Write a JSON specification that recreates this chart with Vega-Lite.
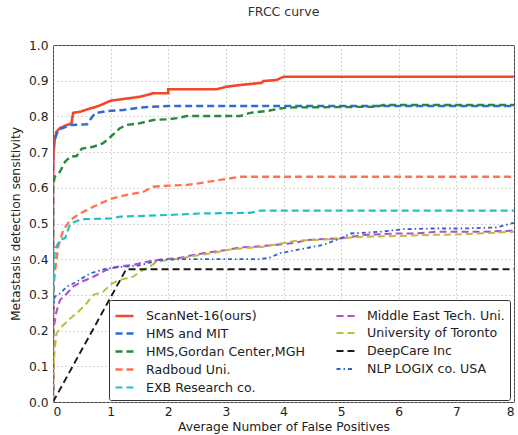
{
  "$schema": "https://vega.github.io/schema/vega-lite/v6.json",
  "width": 461,
  "height": 357,
  "autosize": {"type": "none"},
  "padding": {"left": 53, "top": 45, "right": 4, "bottom": 33},
  "background": "white",
  "title": {"text": "FRCC curve", "fontSize": 12.5, "font": "DejaVu Sans", "fontWeight": "normal", "color": "#333", "anchor": "middle", "baseline": "bottom", "offset": 8},
  "config": {
    "font": "DejaVu Sans",
    "view": {"stroke": "#444", "strokeWidth": 1},
    "axis": {"grid": true, "gridColor": "#aaa", "gridDash": [1, 3], "gridWidth": 1, "domain": false, "ticks": false, "labelFont": "DejaVu Sans", "labelFontSize": 12.3, "labelColor": "#222", "titleFont": "DejaVu Sans", "titleFontSize": 12.3, "titleFontWeight": "normal", "titleColor": "#222"}
  },
  "data": {"values": [
    {"s":"ScanNet-16(ours)","x":0,"y":0},{"s":"ScanNet-16(ours)","x":0,"y":0.62},{"s":"ScanNet-16(ours)","x":0.01,"y":0.7},{"s":"ScanNet-16(ours)","x":0.03,"y":0.734},{"s":"ScanNet-16(ours)","x":0.06,"y":0.757},{"s":"ScanNet-16(ours)","x":0.12,"y":0.767},{"s":"ScanNet-16(ours)","x":0.24,"y":0.776},{"s":"ScanNet-16(ours)","x":0.32,"y":0.78},{"s":"ScanNet-16(ours)","x":0.35,"y":0.81},{"s":"ScanNet-16(ours)","x":0.47,"y":0.813},{"s":"ScanNet-16(ours)","x":0.64,"y":0.822},{"s":"ScanNet-16(ours)","x":0.79,"y":0.829},{"s":"ScanNet-16(ours)","x":1.0,"y":0.844},{"s":"ScanNet-16(ours)","x":1.28,"y":0.85},{"s":"ScanNet-16(ours)","x":1.51,"y":0.855},{"s":"ScanNet-16(ours)","x":1.74,"y":0.865},{"s":"ScanNet-16(ours)","x":2.0,"y":0.865},{"s":"ScanNet-16(ours)","x":2.0,"y":0.876},{"s":"ScanNet-16(ours)","x":2.84,"y":0.876},{"s":"ScanNet-16(ours)","x":3.0,"y":0.883},{"s":"ScanNet-16(ours)","x":3.25,"y":0.888},{"s":"ScanNet-16(ours)","x":3.62,"y":0.894},{"s":"ScanNet-16(ours)","x":3.65,"y":0.899},{"s":"ScanNet-16(ours)","x":3.88,"y":0.902},{"s":"ScanNet-16(ours)","x":4.0,"y":0.911},{"s":"ScanNet-16(ours)","x":8,"y":0.911},

    {"s":"HMS and MIT","x":0,"y":0},{"s":"HMS and MIT","x":0,"y":0.7},{"s":"HMS and MIT","x":0.005,"y":0.725},{"s":"HMS and MIT","x":0.09,"y":0.762},{"s":"HMS and MIT","x":0.3,"y":0.776},{"s":"HMS and MIT","x":0.59,"y":0.778},{"s":"HMS and MIT","x":0.64,"y":0.79},{"s":"HMS and MIT","x":0.73,"y":0.809},{"s":"HMS and MIT","x":0.93,"y":0.815},{"s":"HMS and MIT","x":1.22,"y":0.818},{"s":"HMS and MIT","x":1.51,"y":0.825},{"s":"HMS and MIT","x":2.0,"y":0.829},{"s":"HMS and MIT","x":8,"y":0.829},

    {"s":"HMS,Gordan Center,MGH","x":0,"y":0},{"s":"HMS,Gordan Center,MGH","x":0,"y":0.6},{"s":"HMS,Gordan Center,MGH","x":0.03,"y":0.631},{"s":"HMS,Gordan Center,MGH","x":0.12,"y":0.645},{"s":"HMS,Gordan Center,MGH","x":0.21,"y":0.673},{"s":"HMS,Gordan Center,MGH","x":0.3,"y":0.687},{"s":"HMS,Gordan Center,MGH","x":0.41,"y":0.689},{"s":"HMS,Gordan Center,MGH","x":0.5,"y":0.71},{"s":"HMS,Gordan Center,MGH","x":0.7,"y":0.715},{"s":"HMS,Gordan Center,MGH","x":0.87,"y":0.725},{"s":"HMS,Gordan Center,MGH","x":1.0,"y":0.743},{"s":"HMS,Gordan Center,MGH","x":1.16,"y":0.767},{"s":"HMS,Gordan Center,MGH","x":1.28,"y":0.776},{"s":"HMS,Gordan Center,MGH","x":1.51,"y":0.781},{"s":"HMS,Gordan Center,MGH","x":1.74,"y":0.79},{"s":"HMS,Gordan Center,MGH","x":2.0,"y":0.792},{"s":"HMS,Gordan Center,MGH","x":2.15,"y":0.795},{"s":"HMS,Gordan Center,MGH","x":2.32,"y":0.801},{"s":"HMS,Gordan Center,MGH","x":3.25,"y":0.801},{"s":"HMS,Gordan Center,MGH","x":3.42,"y":0.81},{"s":"HMS,Gordan Center,MGH","x":3.71,"y":0.815},{"s":"HMS,Gordan Center,MGH","x":3.94,"y":0.822},{"s":"HMS,Gordan Center,MGH","x":4.06,"y":0.825},{"s":"HMS,Gordan Center,MGH","x":5.62,"y":0.827},{"s":"HMS,Gordan Center,MGH","x":5.73,"y":0.832},{"s":"HMS,Gordan Center,MGH","x":8,"y":0.832},

    {"s":"Radboud Uni.","x":0,"y":0},{"s":"Radboud Uni.","x":0,"y":0.3},{"s":"Radboud Uni.","x":0.03,"y":0.36},{"s":"Radboud Uni.","x":0.09,"y":0.435},{"s":"Radboud Uni.","x":0.18,"y":0.482},{"s":"Radboud Uni.","x":0.3,"y":0.51},{"s":"Radboud Uni.","x":0.47,"y":0.528},{"s":"Radboud Uni.","x":0.64,"y":0.542},{"s":"Radboud Uni.","x":0.82,"y":0.556},{"s":"Radboud Uni.","x":1.02,"y":0.57},{"s":"Radboud Uni.","x":1.28,"y":0.58},{"s":"Radboud Uni.","x":1.57,"y":0.589},{"s":"Radboud Uni.","x":1.74,"y":0.603},{"s":"Radboud Uni.","x":2.0,"y":0.606},{"s":"Radboud Uni.","x":2.32,"y":0.608},{"s":"Radboud Uni.","x":2.55,"y":0.613},{"s":"Radboud Uni.","x":2.9,"y":0.622},{"s":"Radboud Uni.","x":3.25,"y":0.631},{"s":"Radboud Uni.","x":8,"y":0.631},

    {"s":"EXB Research co.","x":0,"y":0},{"s":"EXB Research co.","x":0,"y":0.25},{"s":"EXB Research co.","x":0.03,"y":0.426},{"s":"EXB Research co.","x":0.12,"y":0.454},{"s":"EXB Research co.","x":0.21,"y":0.459},{"s":"EXB Research co.","x":0.3,"y":0.5},{"s":"EXB Research co.","x":0.38,"y":0.505},{"s":"EXB Research co.","x":0.5,"y":0.512},{"s":"EXB Research co.","x":1.0,"y":0.514},{"s":"EXB Research co.","x":1.16,"y":0.519},{"s":"EXB Research co.","x":2.0,"y":0.524},{"s":"EXB Research co.","x":2.55,"y":0.528},{"s":"EXB Research co.","x":3.42,"y":0.53},{"s":"EXB Research co.","x":3.6,"y":0.536},{"s":"EXB Research co.","x":8,"y":0.536},

    {"s":"Middle East Tech. Uni.","x":0,"y":0},{"s":"Middle East Tech. Uni.","x":0,"y":0.2},{"s":"Middle East Tech. Uni.","x":0.03,"y":0.225},{"s":"Middle East Tech. Uni.","x":0.06,"y":0.253},{"s":"Middle East Tech. Uni.","x":0.12,"y":0.285},{"s":"Middle East Tech. Uni.","x":0.24,"y":0.304},{"s":"Middle East Tech. Uni.","x":0.35,"y":0.323},{"s":"Middle East Tech. Uni.","x":0.5,"y":0.337},{"s":"Middle East Tech. Uni.","x":0.7,"y":0.351},{"s":"Middle East Tech. Uni.","x":0.93,"y":0.37},{"s":"Middle East Tech. Uni.","x":1.11,"y":0.379},{"s":"Middle East Tech. Uni.","x":1.39,"y":0.384},{"s":"Middle East Tech. Uni.","x":1.63,"y":0.393},{"s":"Middle East Tech. Uni.","x":1.92,"y":0.4},{"s":"Middle East Tech. Uni.","x":2.15,"y":0.402},{"s":"Middle East Tech. Uni.","x":2.44,"y":0.412},{"s":"Middle East Tech. Uni.","x":2.78,"y":0.421},{"s":"Middle East Tech. Uni.","x":3.02,"y":0.426},{"s":"Middle East Tech. Uni.","x":3.25,"y":0.433},{"s":"Middle East Tech. Uni.","x":3.5,"y":0.435},{"s":"Middle East Tech. Uni.","x":3.85,"y":0.44},{"s":"Middle East Tech. Uni.","x":4.2,"y":0.446},{"s":"Middle East Tech. Uni.","x":4.43,"y":0.454},{"s":"Middle East Tech. Uni.","x":4.6,"y":0.456},{"s":"Middle East Tech. Uni.","x":4.98,"y":0.458},{"s":"Middle East Tech. Uni.","x":5.39,"y":0.468},{"s":"Middle East Tech. Uni.","x":5.97,"y":0.472},{"s":"Middle East Tech. Uni.","x":6.31,"y":0.472},{"s":"Middle East Tech. Uni.","x":6.66,"y":0.477},{"s":"Middle East Tech. Uni.","x":7.47,"y":0.477},{"s":"Middle East Tech. Uni.","x":8,"y":0.48},

    {"s":"University of Toronto","x":0,"y":0},{"s":"University of Toronto","x":0,"y":0.08},{"s":"University of Toronto","x":0.03,"y":0.146},{"s":"University of Toronto","x":0.06,"y":0.192},{"s":"University of Toronto","x":0.15,"y":0.211},{"s":"University of Toronto","x":0.3,"y":0.234},{"s":"University of Toronto","x":0.44,"y":0.253},{"s":"University of Toronto","x":0.58,"y":0.276},{"s":"University of Toronto","x":0.7,"y":0.3},{"s":"University of Toronto","x":0.87,"y":0.309},{"s":"University of Toronto","x":1.02,"y":0.332},{"s":"University of Toronto","x":1.16,"y":0.342},{"s":"University of Toronto","x":1.39,"y":0.351},{"s":"University of Toronto","x":1.51,"y":0.365},{"s":"University of Toronto","x":1.68,"y":0.379},{"s":"University of Toronto","x":1.8,"y":0.393},{"s":"University of Toronto","x":2.0,"y":0.398},{"s":"University of Toronto","x":2.2,"y":0.402},{"s":"University of Toronto","x":2.55,"y":0.412},{"s":"University of Toronto","x":2.78,"y":0.417},{"s":"University of Toronto","x":3.02,"y":0.426},{"s":"University of Toronto","x":3.25,"y":0.43},{"s":"University of Toronto","x":3.65,"y":0.435},{"s":"University of Toronto","x":4.23,"y":0.452},{"s":"University of Toronto","x":4.81,"y":0.456},{"s":"University of Toronto","x":5.39,"y":0.463},{"s":"University of Toronto","x":5.97,"y":0.465},{"s":"University of Toronto","x":6.55,"y":0.468},{"s":"University of Toronto","x":7.12,"y":0.47},{"s":"University of Toronto","x":8,"y":0.477},

    {"s":"DeepCare Inc","x":0,"y":0},{"s":"DeepCare Inc","x":1.27,"y":0.372},{"s":"DeepCare Inc","x":8,"y":0.372},

    {"s":"NLP LOGIX co. USA","x":0,"y":0},{"s":"NLP LOGIX co. USA","x":0,"y":0.25},{"s":"NLP LOGIX co. USA","x":0.03,"y":0.295},{"s":"NLP LOGIX co. USA","x":0.12,"y":0.304},{"s":"NLP LOGIX co. USA","x":0.24,"y":0.323},{"s":"NLP LOGIX co. USA","x":0.41,"y":0.337},{"s":"NLP LOGIX co. USA","x":0.64,"y":0.36},{"s":"NLP LOGIX co. USA","x":0.93,"y":0.374},{"s":"NLP LOGIX co. USA","x":1.22,"y":0.379},{"s":"NLP LOGIX co. USA","x":1.45,"y":0.381},{"s":"NLP LOGIX co. USA","x":1.63,"y":0.388},{"s":"NLP LOGIX co. USA","x":1.86,"y":0.398},{"s":"NLP LOGIX co. USA","x":2.2,"y":0.4},{"s":"NLP LOGIX co. USA","x":3.59,"y":0.4},{"s":"NLP LOGIX co. USA","x":3.77,"y":0.405},{"s":"NLP LOGIX co. USA","x":3.94,"y":0.417},{"s":"NLP LOGIX co. USA","x":4.23,"y":0.426},{"s":"NLP LOGIX co. USA","x":4.69,"y":0.44},{"s":"NLP LOGIX co. USA","x":4.98,"y":0.458},{"s":"NLP LOGIX co. USA","x":5.16,"y":0.472},{"s":"NLP LOGIX co. USA","x":5.68,"y":0.477},{"s":"NLP LOGIX co. USA","x":6.08,"y":0.484},{"s":"NLP LOGIX co. USA","x":6.55,"y":0.486},{"s":"NLP LOGIX co. USA","x":7.12,"y":0.486},{"s":"NLP LOGIX co. USA","x":7.7,"y":0.489},{"s":"NLP LOGIX co. USA","x":8,"y":0.502}
  ]},
  "mark": {"type": "line", "clip": true},
  "encoding": {
    "x": {"field": "x", "type": "quantitative", "scale": {"domain": [0, 8], "nice": false}, "axis": {"values": [0,1,2,3,4,5,6,7,8], "format": "d", "title": "Average Number of False Positives", "labelPadding": 3, "titlePadding": 3}},
    "y": {"field": "y", "type": "quantitative", "scale": {"domain": [0, 1], "nice": false}, "axis": {"values": [0,0.1,0.2,0.3,0.4,0.5,0.6,0.7,0.8,0.9,1.0], "format": ".1f", "title": "Metastasis detection sensitivity", "labelPadding": 5, "titlePadding": 6}},
    "order": {"value": null},
    "color": {"field": "s", "type": "nominal", "title": null,
      "scale": {"domain": ["ScanNet-16(ours)","HMS and MIT","HMS,Gordan Center,MGH","Radboud Uni.","EXB Research co.","Middle East Tech. Uni.","University of Toronto","DeepCare Inc","NLP LOGIX co. USA"],
                "range": ["#F5462A","#2E6BD6","#258A3A","#FF7250","#22BFC4","#B44FC7","#BCBD3A","#1a1a1a","#2A62D0"]},
      "legend": {"orient": "none", "legendX": 56, "legendY": 255, "columns": 2, "columnPadding": 27, "rowPadding": 0, "padding": 5, "strokeColor": "#333", "fillColor": "white", "symbolType": "stroke", "symbolSize": 324, "symbolStrokeWidth": 2.2, "labelFontSize": 12.6, "labelFont": "DejaVu Sans", "labelColor": "#222", "labelOffset": 11, "labelLimit": 300, "cornerRadius": 2}},
    "strokeDash": {"field": "s", "type": "nominal", "title": null,
      "scale": {"domain": ["ScanNet-16(ours)","HMS and MIT","HMS,Gordan Center,MGH","Radboud Uni.","EXB Research co.","Middle East Tech. Uni.","University of Toronto","DeepCare Inc","NLP LOGIX co. USA"],
                "range": [[1,0],[7,4],[7,4],[7,4],[7,4],[7,4],[7,4],[7,4],[4,3,1.5,3]]}},
    "strokeWidth": {"field": "s", "type": "nominal", "title": null,
      "scale": {"domain": ["ScanNet-16(ours)","HMS and MIT","HMS,Gordan Center,MGH","Radboud Uni.","EXB Research co.","Middle East Tech. Uni.","University of Toronto","DeepCare Inc","NLP LOGIX co. USA"],
                "range": [2.6,1.8,1.8,1.8,1.8,1.8,1.8,1.8,1.8]}}
  }
}
